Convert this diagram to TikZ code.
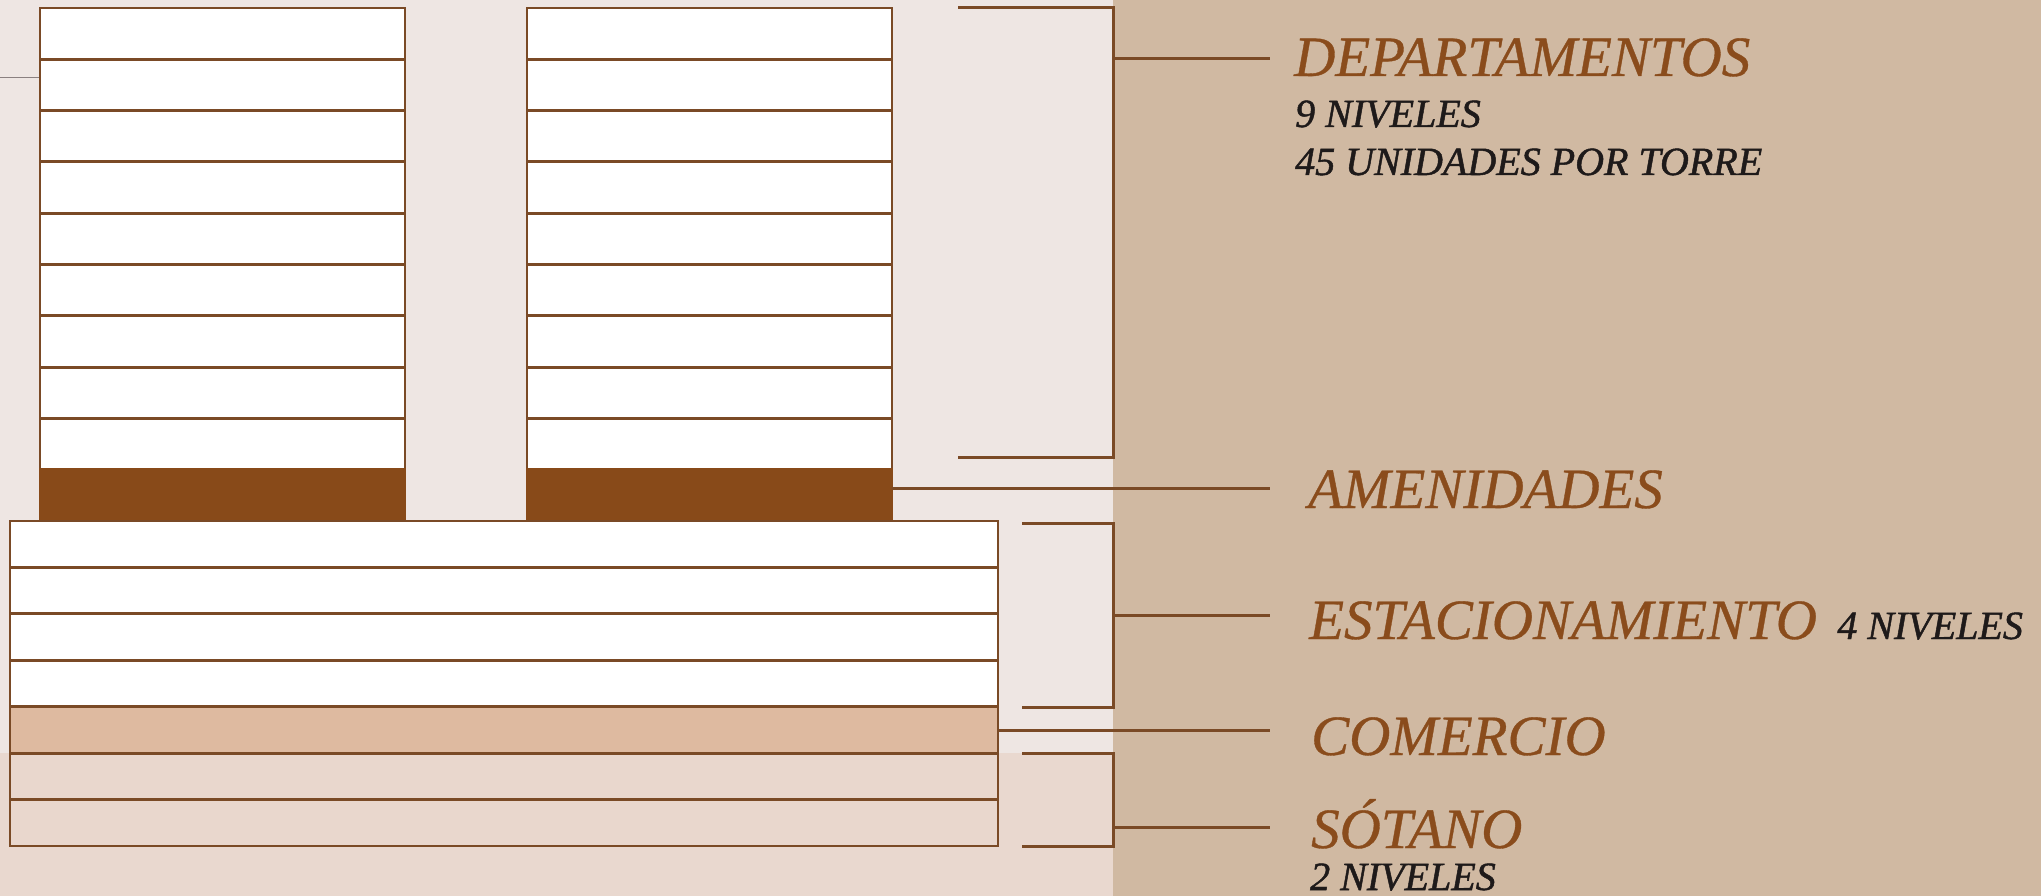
\documentclass[tikz,border=0pt]{standalone}
\usepackage{fontspec}
\setmainfont{Liberation Serif}
\newfontfamily\bigfam{Liberation Serif}[ItalicFeatures={FakeBold=0.6}]
\newfontfamily\smallfam{Liberation Serif}[ItalicFeatures={FakeBold=1.2}]
\definecolor{bgtop}{HTML}{EEE6E3}
\definecolor{bgbot}{HTML}{E9D8CF}
\definecolor{panel}{HTML}{D0B9A2}
\definecolor{brn}{HTML}{7A4A26}
\definecolor{amen}{HTML}{884A19}
\definecolor{txtbrn}{HTML}{8A4C1C}
\definecolor{com}{HTML}{DEBAA0}
\definecolor{sot}{HTML}{E9D7CD}
\definecolor{txtblk}{HTML}{1E1A1A}
\definecolor{grayline}{HTML}{8A8080}
\tikzset{
  floorbox/.style={draw=brn, line width=2.8pt, fill=white},
  amenbox/.style={draw=amen, line width=2.8pt, fill=amen},
  ldr/.style={draw=brn, line width=3pt},
  bigtxt/.style={inner sep=0pt, anchor=base west, text=txtbrn, font=\bigfam\fontsize{57}{60}\selectfont\itshape},
  smalltxt/.style={inner sep=0pt, anchor=base west, text=txtblk, font=\smallfam\fontsize{40}{42}\selectfont\itshape}
}
\begin{document}
\begin{tikzpicture}[x=1pt,y=-1pt]
\useasboundingbox (0,0) rectangle (2041,896);
% backgrounds
\fill[bgtop] (0,0) rectangle (1113,753);
\fill[bgbot] (0,753) rectangle (1113,896);
\fill[panel] (1113,0) rectangle (2041,896);
% left grey stub
\coordinate (gA) at (0,77.7);
\coordinate (gB) at (40,77.7);
\draw[grayline, line width=1.5pt] (gA) -- (gB);
% towers
\foreach \xo in {40,527}{
  \foreach \i in {0,...,8}{
    \draw[floorbox] (\xo,{8+\i*51.3}) rectangle ({\xo+365},{8+(\i+1)*51.3});
  }
  \draw[amenbox] (\xo,469.7) rectangle ({\xo+365},521);
}
% podium
\foreach \i/\c in {0/white,1/white,2/white,3/white,4/com,5/sot,6/sot}{
  \draw[draw=brn, line width=2.8pt, fill=\c] (10,{521+\i*46.43}) rectangle (998,{521+(\i+1)*46.43});
}
% labels
\node[bigtxt] (dep) at (1294,76) {DEPARTAMENTOS};
\node[smalltxt] (dep1) at (1295,127) {9 NIVELES};
\node[smalltxt] (dep2) at (1295,175) {45 UNIDADES POR TORRE};
\node[bigtxt] (ame) at (1308,508) {AMENIDADES};
\node[bigtxt] (est) at (1309,639) {ESTACIONAMIENTO};
\node[smalltxt, anchor=base west] (est1) at ([xshift=20pt]est.base east) {4 NIVELES};
\node[bigtxt] (com) at (1311,755) {COMERCIO};
\node[bigtxt] (sot) at (1311,848) {SÓTANO};
\node[smalltxt] (sot1) at (1310,890) {2 NIVELES};
% bracket coordinates
\coordinate (dTL) at (958,8);   \coordinate (dTR) at (1113,8);
\coordinate (dBL) at (958,457); \coordinate (dBR) at (1113,457);
\coordinate (dM) at (1113,59);  \coordinate (dE) at (1270,59);
\coordinate (aS) at (892,488);  \coordinate (aE) at (1270,488);
\coordinate (eTL) at (1022,523); \coordinate (eTR) at (1113,523);
\coordinate (eBL) at (1022,707); \coordinate (eBR) at (1113,707);
\coordinate (eM) at (1113,615);  \coordinate (eE) at (1270,615);
\coordinate (cS) at (998,730);   \coordinate (cE) at (1270,730);
\coordinate (sTL) at (1022,753); \coordinate (sTR) at (1113,753);
\coordinate (sBL) at (1022,846); \coordinate (sBR) at (1113,846);
\coordinate (sM) at (1113,827);  \coordinate (sE) at (1270,827);
% brackets and leaders
\draw[ldr] (dTL) -- (dTR) -- (dBR) -- (dBL);
\draw[ldr] (dM) -- (dE);
\draw[ldr] (aS) -- (aE);
\draw[ldr] (eTL) -- (eTR) -- (eBR) -- (eBL);
\draw[ldr] (eM) -- (eE);
\draw[ldr] (cS) -- (cE);
\draw[ldr] (sTL) -- (sTR) -- (sBR) -- (sBL);
\draw[ldr] (sM) -- (sE);
\end{tikzpicture}
\end{document}
